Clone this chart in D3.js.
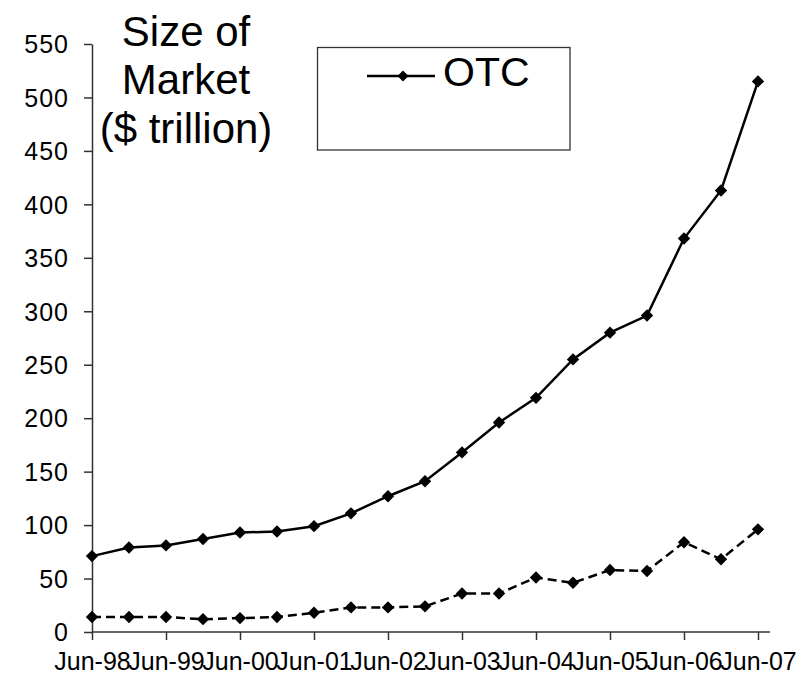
<!DOCTYPE html>
<html>
<head>
<meta charset="utf-8">
<script src="https://cdn.jsdelivr.net/npm/d3@7"></script>
<style>
  html, body { margin: 0; padding: 0; background: #fff; }
  svg { display: block; font-family: "Liberation Sans", Arial, sans-serif; }
</style>
</head>
<body>
<svg id="chart" width="802" height="676"></svg>
<script>
// ---- Data ----
const categories = ["Jun-98","Dec-98","Jun-99","Dec-99","Jun-00","Dec-00","Jun-01","Dec-01","Jun-02","Dec-02",
                    "Jun-03","Dec-03","Jun-04","Dec-04","Jun-05","Dec-05","Jun-06","Dec-06","Jun-07"];
const otcValues = [71, 79, 81, 87, 93, 94, 99, 111, 127, 141, 168, 196, 219, 255, 280, 296, 368, 413, 515];
const exchangeValues = [14, 14, 14, 12, 13, 14, 18, 23, 23, 24, 36, 36, 51, 46, 58, 57, 84, 68, 96];
const yTicks = [0, 50, 100, 150, 200, 250, 300, 350, 400, 450, 500, 550];
const titleLines = ["Size of", "Market", "($ trillion)"];
const legendLabel = "OTC";

(function () {
// ---- Layout ----
const svg = d3.select("#chart");
const mLeft = 92, mRight = 758, mTop = 44, mBottom = 632;

const x = d3.scaleLinear().domain([0, categories.length - 1]).range([mLeft, mRight]);
const y = d3.scaleLinear().domain([0, 550]).range([mBottom, mTop]);

const axisColor = "#333";

// Y axis
const yAxis = svg.append("g")
  .attr("transform", `translate(${mLeft},0)`)
  .call(d3.axisLeft(y).tickValues(yTicks).tickSize(8).tickPadding(15).tickSizeOuter(0));
yAxis.select(".domain").attr("stroke", axisColor).attr("stroke-width", 1.5);
yAxis.selectAll(".tick line").attr("stroke", axisColor).attr("stroke-width", 1.5);
yAxis.selectAll(".tick text")
  .attr("fill", "#000")
  .attr("font-size", 25)
  .attr("letter-spacing", 1)
  .attr("font-family", "Liberation Sans, Arial, sans-serif")
  .attr("dy", "0.35em");

// X axis
const jIdx = categories.map((c, i) => i).filter(i => categories[i].startsWith("Jun"));
const xAxis = svg.append("g")
  .attr("transform", `translate(0,${mBottom})`)
  .call(d3.axisBottom(x).tickValues(jIdx).tickFormat(i => categories[i]).tickSize(8).tickSizeOuter(0));
xAxis.select(".domain").remove();
xAxis.append("line")
  .attr("x1", x.range()[0]).attr("x2", x.range()[1] + 12)
  .attr("y1", 0).attr("y2", 0)
  .attr("stroke", axisColor).attr("stroke-width", 1.5);
xAxis.selectAll(".tick line").attr("stroke", axisColor).attr("stroke-width", 1.5);
xAxis.selectAll(".tick text")
  .attr("fill", "#000")
  .attr("font-size", 25)
  .attr("font-family", "Liberation Sans, Arial, sans-serif")
  .attr("y", 38)
  .attr("dy", 0);

// Lines
const line = d3.line().x((d, i) => x(i)).y(d => y(d));

svg.append("path").datum(exchangeValues)
  .attr("d", line).attr("fill", "none")
  .attr("stroke", "#000").attr("stroke-width", 2.5)
  .attr("stroke-dasharray", "9,5");

svg.append("path").datum(otcValues)
  .attr("d", line).attr("fill", "none")
  .attr("stroke", "#000").attr("stroke-width", 2.5);

const diamond = (s) => `M0,${-s}L${s},0L0,${s}L${-s},0Z`;

function markers(vals) {
  svg.append("g").selectAll("path").data(vals).join("path")
    .attr("d", diamond(6.2))
    .attr("transform", (d, i) => `translate(${x(i)},${y(d)})`)
    .attr("fill", "#000");
}
markers(exchangeValues);
markers(otcValues);

// Title
const title = svg.append("text")
  .attr("text-anchor", "middle")
  .attr("font-size", 42)
  .attr("fill", "#000");
const titleBaselines = [46, 94, 143];
titleLines.forEach((t, i) => {
  title.append("tspan").attr("x", 186).attr("y", titleBaselines[i]).text(t);
});

// Legend
const lg = svg.append("g");
lg.append("rect")
  .attr("x", 317.5).attr("y", 47.5).attr("width", 252.5).attr("height", 102.5)
  .attr("fill", "#fff").attr("stroke", "#333").attr("stroke-width", 1.3);
lg.append("line")
  .attr("x1", 367).attr("x2", 435).attr("y1", 76).attr("y2", 76)
  .attr("stroke", "#000").attr("stroke-width", 2.5);
lg.append("path")
  .attr("d", diamond(5.5))
  .attr("transform", "translate(403,76)")
  .attr("fill", "#000");
lg.append("text")
  .attr("x", 443).attr("y", 86)
  .attr("font-size", 41)
  .attr("fill", "#000")
  .text(legendLabel);
})();
</script>
</body>
</html>
